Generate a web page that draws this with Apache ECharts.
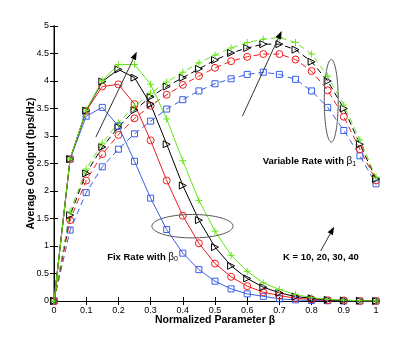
<!DOCTYPE html>
<html>
<head>
<meta charset="utf-8">
<script src="https://cdn.jsdelivr.net/npm/echarts@6/dist/echarts.min.js"></script>
<style>
  html, body { margin: 0; padding: 0; background: #fff; }
  #main { width: 415px; height: 339px; }
</style>
</head>
<body>
<div id="main"></div>
<script>
// beta values (x axis)
const beta = [0, 0.05, 0.1, 0.15, 0.2, 0.25, 0.3, 0.35, 0.4, 0.45, 0.5,
  0.55, 0.6, 0.65, 0.7, 0.75, 0.8, 0.85, 0.9, 0.95, 1];

// fix rate with beta0 (solid)
const fixK10 = [0, 2.58, 3.36, 3.52, 3.18, 2.54, 1.87, 1.30, 0.87, 0.57, 0.36,
  0.22, 0.13, 0.085, 0.04, 0.02, 0.01, 0.005, 0, 0, 0];
const fixK20 = [0, 2.58, 3.46, 3.90, 3.94, 3.58, 2.92, 2.19, 1.55, 1.05, 0.68,
  0.44, 0.27, 0.16, 0.10, 0.05, 0.03, 0.015, 0.01, 0, 0];
const fixK30 = [0, 2.58, 3.46, 3.99, 4.21, 4.06, 3.58, 2.85, 2.10, 1.47, 0.98,
  0.64, 0.41, 0.25, 0.15, 0.08, 0.05, 0.02, 0.01, 0.005, 0];
const fixK40 = [0, 2.58, 3.47, 4.01, 4.30, 4.30, 3.94, 3.31, 2.55, 1.83, 1.27,
  0.83, 0.54, 0.33, 0.21, 0.12, 0.06, 0.03, 0.015, 0.005, 0];

// variable rate with beta1 (dashed)
const varK10 = [0, 1.29, 1.97, 2.44, 2.76, 3.04, 3.27, 3.49, 3.66, 3.82, 3.95,
  4.04, 4.12, 4.16, 4.12, 4.03, 3.82, 3.52, 3.10, 2.64, 2.13];
const varK20 = [0, 1.47, 2.19, 2.67, 3.02, 3.32, 3.55, 3.75, 3.93, 4.09, 4.24,
  4.36, 4.44, 4.49, 4.49, 4.39, 4.18, 3.83, 3.35, 2.76, 2.19];
const varK30 = [0, 1.56, 2.32, 2.80, 3.16, 3.47, 3.71, 3.90, 4.06, 4.22, 4.38,
  4.51, 4.60, 4.67, 4.67, 4.57, 4.35, 4.00, 3.50, 2.85, 2.22];
const varK40 = [0, 1.62, 2.40, 2.87, 3.24, 3.54, 3.78, 3.98, 4.16, 4.33, 4.47,
  4.60, 4.70, 4.76, 4.79, 4.70, 4.49, 4.09, 3.56, 2.93, 2.25];

const BLUE = '#3a5ee6';
const RED = '#ee1c1c';
const BLACK = '#000';
const GREEN = '#66e61a';
const FONT = 'Liberation Sans';

// hollow markers like matlab
const SQUARE = 'path://M0,0 L10,0 L10,10 L0,10 Z';
const CIRCLE = 'path://M10,5 A5,5 0 1,1 0,5 A5,5 0 1,1 10,5 Z';
const TRI = 'path://M0,0 L10,5 L0,10 Z';
const PLUS = 'path://M5,0 L5,10 M0,5 L10,5';

const myChart = echarts.init(document.getElementById('main'), null, { renderer: 'canvas' });

function mk(data, color, symbol, size, dashed) {
  return {
    type: 'line',
    data: beta.map((b, i) => [b, data[i]]),
    symbol: symbol,
    symbolSize: size,
    showAllSymbol: true,
    animation: false,
    lineStyle: { color: color, width: 1, type: dashed ? [6, 4] : 'solid' },
    itemStyle: { color: 'none', borderColor: color, borderWidth: 1 },
    emphasis: { disabled: true },
    z: 3
  };
}

const axisText = { color: '#000', fontFamily: FONT, fontSize: 9 };

let option = {
  animation: false,
  grid: { left: 54, right: 39, top: 26, bottom: 38 },
  xAxis: [
    {
      type: 'value', min: 0, max: 1, interval: 0.1,
      name: 'Normalized Parameter β', nameLocation: 'middle', nameGap: 14,
      nameMoveOverlap: false,
      nameTextStyle: { color: '#000', fontFamily: FONT, fontSize: 10.5, fontWeight: 'bold' },
      axisLine: { show: true, lineStyle: { color: '#000', width: 1 } },
      axisTick: { show: true, inside: true, length: 4, lineStyle: { color: '#000' } },
      axisLabel: Object.assign({ margin: 5, formatter: v => String(+v.toFixed(1)) }, axisText),
      splitLine: { show: false }
    },
    {
      type: 'value', min: 0, max: 1, interval: 0.1, position: 'top',
      axisLine: { show: true, lineStyle: { color: '#000', width: 1 } },
      axisTick: { show: true, inside: true, length: 4, lineStyle: { color: '#000' } },
      axisLabel: { show: false }, splitLine: { show: false }
    }
  ],
  yAxis: [
    {
      type: 'value', min: 0, max: 5, interval: 0.5,
      name: 'Average Goodput (bps/Hz)', nameLocation: 'middle', nameGap: 17,
      nameMoveOverlap: false,
      nameTextStyle: { color: '#000', fontFamily: FONT, fontSize: 10.5, fontWeight: 'bold' },
      axisLine: { show: true, lineStyle: { color: '#888', width: 2 } },
      axisTick: { show: true, inside: true, length: 4, lineStyle: { color: '#000' } },
      axisLabel: Object.assign({ margin: 5, formatter: v => String(+v.toFixed(1)) }, axisText),
      splitLine: { show: false }
    },
    {
      type: 'value', min: 0, max: 5, interval: 0.5, position: 'right',
      axisLine: { show: true, lineStyle: { color: '#000', width: 1 } },
      axisTick: { show: true, inside: true, length: 4, lineStyle: { color: '#000' } },
      axisLabel: { show: false }, splitLine: { show: false }
    }
  ],
  series: [
    mk(varK10, BLUE, SQUARE, 6, true),
    mk(varK20, RED, CIRCLE, 7, true),
    mk(varK30, BLACK, TRI, 7, true),
    mk(varK40, GREEN, PLUS, 7, true),
    mk(fixK10, BLUE, SQUARE, 6, false),
    mk(fixK20, RED, CIRCLE, 7, false),
    mk(fixK30, BLACK, TRI, 7, false),
    mk(fixK40, GREEN, PLUS, 7, false)
  ]
};

myChart.setOption(option);

// annotations, given in data units and converted to pixels
const arrows = [
  [[0.13, 2.98], [0.257, 4.53]],
  [[0.585, 3.36], [0.707, 4.91]],
  [[0.828, 0.91], [0.870, 1.35]]
];
const ellipses = [
  { c: [0.430, 1.36], rx: 0.126, ry: 0.213 },
  { c: [0.861, 3.64], rx: 0.0217, ry: 0.75 }
];

const px = p => myChart.convertToPixel({ gridIndex: 0 }, p);
const graphic = [];

arrows.forEach(a => {
  const s = px(a[0]);
  const e = px(a[1]);
  const ang = Math.atan2(e[1] - s[1], e[0] - s[0]);
  const L = 8, W = 3;
  const bx = e[0] - L * Math.cos(ang), by = e[1] - L * Math.sin(ang);
  graphic.push({
    type: 'line', silent: true, z: 10,
    shape: { x1: s[0], y1: s[1], x2: bx, y2: by },
    style: { stroke: '#333', lineWidth: 1 }
  });
  graphic.push({
    type: 'polygon', silent: true, z: 10,
    shape: { points: [e, [bx - W * Math.sin(ang), by + W * Math.cos(ang)], [bx + W * Math.sin(ang), by - W * Math.cos(ang)]] },
    style: { fill: '#000' }
  });
});

ellipses.forEach(el => {
  const c = px(el.c);
  const r = px([el.c[0] + el.rx, el.c[1] + el.ry]);
  const rx = r[0] - c[0], ry = c[1] - r[1];
  const pts = [];
  for (let i = 0; i < 72; i++) {
    const t = i / 72 * Math.PI * 2;
    pts.push([c[0] + rx * Math.cos(t), c[1] + ry * Math.sin(t)]);
  }
  graphic.push({
    type: 'polygon', silent: true, z: 10,
    shape: { points: pts },
    style: { fill: 'none', stroke: '#555', lineWidth: 1 }
  });
});

const rich = {
  m: { fontFamily: FONT, fontSize: 9.5, fontWeight: 'bold', color: '#000', lineHeight: 12 },
  g: { fontFamily: FONT, fontSize: 10, color: '#000', lineHeight: 12 },
  s: { fontFamily: FONT, fontSize: 7, color: '#000', lineHeight: 6, verticalAlign: 'bottom' }
};

const labels = [
  { at: [0.648, 2.54], text: '{m|Variable Rate with }{g|β}{s|1}' },
  { at: [0.165, 0.80], text: '{m|Fix Rate with }{g|β}{s|0}' },
  { at: [0.711, 0.80], text: '{m|K = 10, 20, 30, 40}' }
];
labels.forEach(l => {
  const p = px(l.at);
  graphic.push({
    type: 'text', silent: true, z: 11, x: p[0], y: p[1],
    style: { text: l.text, rich: rich, verticalAlign: 'middle', align: 'left' }
  });
});

myChart.setOption({ graphic: graphic });
</script>
</body>
</html>
